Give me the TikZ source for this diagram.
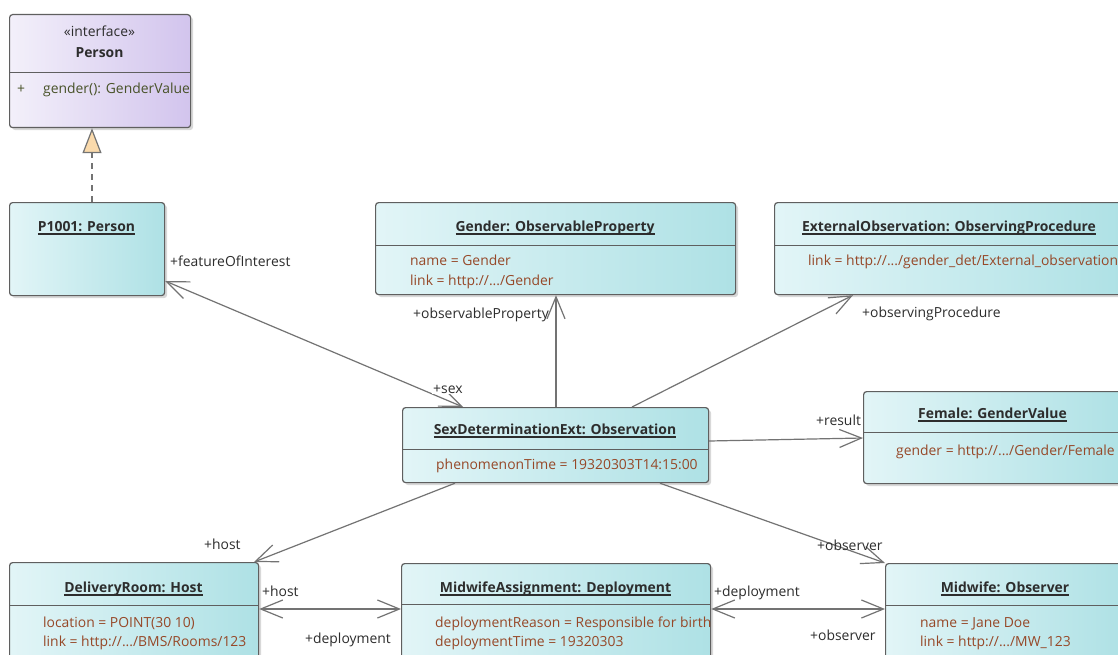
\documentclass[tikz,border=0pt]{standalone}
\usepackage{fontspec}
\setmainfont{Open Sans}
\usetikzlibrary{arrows.meta,shadows}

\definecolor{edge}{RGB}{95,95,95}
\definecolor{boxL}{RGB}{226,245,247}
\definecolor{boxR}{RGB}{174,225,229}
\definecolor{ifL}{RGB}{243,240,250}
\definecolor{ifR}{RGB}{210,196,237}
\definecolor{attr}{RGB}{150,72,40}
\definecolor{txt}{RGB}{45,45,45}
\definecolor{oper}{RGB}{72,82,40}
\definecolor{conn}{RGB}{115,115,115}
\definecolor{gentri}{RGB}{250,218,172}

% bold, underlined instance title
\newcommand\ultitle[1]{\setbox0\hbox{\bfseries #1}\rlap{\rule[-3.8pt]{\wd0}{1.4pt}}\box0}
\newcommand\dfont{\fontsize{13.9}{16}\selectfont}

\tikzset{
  umlbox/.style={draw=edge, line width=1.2pt, rounded corners=3pt,
    left color=boxL, right color=boxR, anchor=north west, inner sep=0pt,
    drop shadow={shadow xshift=2.5pt, shadow yshift=-2.5pt, opacity=0.3}},
  ifbox/.style={umlbox, left color=ifL, right color=ifR},
  sep/.style={draw=edge, line width=1pt},
  ttl/.style={font=\dfont, text=txt, anchor=base, inner sep=0pt},
  att/.style={font=\dfont, text=attr, anchor=base west, inner sep=0pt},
  lbl/.style={font=\dfont, text=txt, anchor=base west, inner sep=0pt},
  barb/.tip={Straight Barb[length=22pt,width=18pt]},
  assoc/.style={draw=conn, line width=1.2pt, -barb},
  assocboth/.style={draw=conn, line width=1.2pt, barb-barb},
  realize/.style={draw=conn, line width=1.2pt, dashed, dash pattern=on 6pt off 5pt,
    -{Triangle[length=25pt,width=19pt,fill=gentri]}},
}

\begin{document}
\begin{tikzpicture}[x=1pt,y=-1pt]
\useasboundingbox (0,0) rectangle (1118,655);
\fill[white] (0,0) rectangle (1118,655);
\clip (0,0) rectangle (1118,655);

% ---- class boxes ----
\node[ifbox,  minimum width=181, minimum height=113] (person) at (9,14) {};
\node[umlbox, minimum width=155, minimum height=93]  (p1001)  at (9,202) {};
\node[umlbox, minimum width=360, minimum height=92]  (gender) at (375,202) {};
\node[umlbox, minimum width=350, minimum height=92]  (ext)    at (774,202) {};
\node[umlbox, minimum width=306, minimum height=75]  (obs)    at (402,407) {};
\node[umlbox, minimum width=260, minimum height=92]  (female) at (863,391) {};
\node[umlbox, minimum width=249, minimum height=110] (host)   at (9,562) {};
\node[umlbox, minimum width=309, minimum height=110] (dep)    at (401,563) {};
\node[umlbox, minimum width=240, minimum height=110] (obsr)   at (885,563) {};

% ---- compartment separators ----
\draw[sep] (9,73) -- (190,73);
\draw[sep] (375,245) -- (735,245);
\draw[sep] (774,245) -- (1124,245);
\draw[sep] (402,449) -- (708,449);
\draw[sep] (863,432) -- (1123,432);
\draw[sep] (9,605) -- (258,605);
\draw[sep] (401,604) -- (710,604);
\draw[sep] (885,605) -- (1125,605);

% ---- box texts ----
\node[ttl] (personStereo) at (99.5,37) {«interface»};
\node[ttl, font=\dfont\bfseries] (personName) at (99.5,58) {Person};
\node[att, text=oper] (personVis) at (17,94) {+};
\node[att, text=oper] (personOp) at (43,94) {gender(): GenderValue};

\node[ttl] (p1001T) at (86.5,231) {\ultitle{P1001: Person}};

\node[ttl] (genderT) at (555,231) {\ultitle{Gender: ObservableProperty}};
\node[att] (genderA1) at (410,265) {name = Gender};
\node[att] (genderA2) at (410,285) {link = http://.../Gender};

\node[ttl] (extT) at (949,231) {\ultitle{ExternalObservation: ObservingProcedure}};
\node[att] (extA1) at (808,265) {link = http://.../gender\_det/External\_observation};

\node[ttl] (obsT) at (555,434) {\ultitle{SexDeterminationExt: Observation}};
\node[att] (obsA1) at (436,469) {phenomenonTime = 19320303T14:15:00};

\node[ttl] (femaleT) at (992.5,418) {\ultitle{Female: GenderValue}};
\node[att] (femaleA1) at (896,455) {gender = http://.../Gender/Female};

\node[ttl] (hostT) at (133.5,592) {\ultitle{DeliveryRoom: Host}};
\node[att] (hostA1) at (43,627) {location = POINT(30 10)};
\node[att] (hostA2) at (43,646) {link = http://.../BMS/Rooms/123};

\node[ttl] (depT) at (555.5,592) {\ultitle{MidwifeAssignment: Deployment}};
\node[att] (depA1) at (435,627) {deploymentReason = Responsible for birth};
\node[att] (depA2) at (435,646) {deploymentTime = 19320303};

\node[ttl] (obsrT) at (1005,592) {\ultitle{Midwife: Observer}};
\node[att] (obsrA1) at (920,627) {name = Jane Doe};
\node[att] (obsrA2) at (920,646) {link = http://.../MW\_123};

% ---- connectors ----
\draw[realize] ([xshift=83pt]p1001.north west) -- ([xshift=83pt]person.south west);

\draw[assocboth] ([xshift=61pt]obs.north west) -- ([yshift=-79pt]p1001.north east);
\draw[assoc] ([xshift=154pt]obs.north west) -- ([xshift=181pt]gender.south west);
\draw[assoc] ([xshift=230pt]obs.north west) -- ([xshift=79pt]ext.south west);
\draw[assoc] ([yshift=-34pt]obs.north east) -- ([yshift=-47pt]female.north west);
\draw[assoc] ([xshift=53pt]obs.south west) -- ([xshift=245pt]host.north west);
\draw[assoc] ([xshift=258pt]obs.south west) -- (obsr.north west);
\draw[assocboth] ([yshift=-47pt]host.north east) -- ([yshift=-46pt]dep.north west);
\draw[assocboth] ([yshift=-46pt]dep.north east) -- ([yshift=-46pt]obsr.north west);

% ---- role labels ----
\node[lbl] (lFoi) at (170,266) {+featureOfInterest};
\node[lbl, fill=white, inner sep=1pt] (lSex) at (432,393) {+sex};
\node[lbl] (lObsProp) at (413,318) {+observableProperty};
\node[lbl] (lProc) at (862,317) {+observingProcedure};
\node[lbl] (lResult) at (816,425) {+result};
\node[lbl] (lHost1) at (204,549) {+host};
\node[lbl] (lObsr1) at (817,550) {+observer};
\node[lbl] (lHost2) at (262,596) {+host};
\node[lbl] (lDep1) at (305,643) {+deployment};
\node[lbl] (lDep2) at (714,596) {+deployment};
\node[lbl] (lObsr2) at (810,640) {+observer};
\end{tikzpicture}
\end{document}
